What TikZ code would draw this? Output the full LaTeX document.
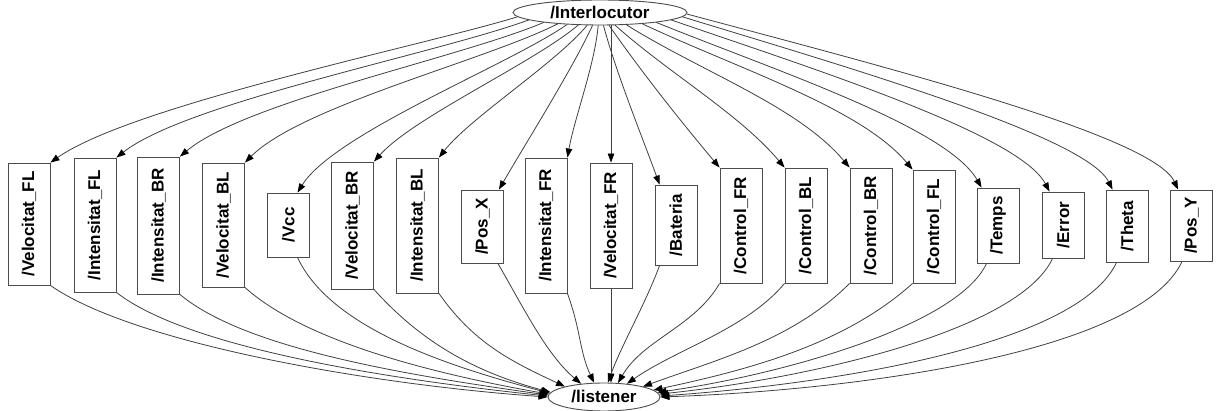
\documentclass[tikz,border=0pt]{standalone}
\usepackage{fontspec}
\setmainfont{Liberation Sans}
\usetikzlibrary{shapes.geometric,arrows.meta}
\begin{document}
\begin{tikzpicture}[x=1pt,y=1pt,
  box/.style={draw=black!70, line width=0.9pt, inner sep=0pt, minimum width=42, font=\bfseries\fontsize{17}{19}\selectfont},
  oval/.style={draw=black!70, line width=0.9pt, ellipse, inner sep=0pt, font=\bfseries\fontsize{17}{19}\selectfont},
  edge/.style={draw=black!75, line width=0.8pt, -{Triangle[length=9pt,width=6.5pt,fill=black,color=black]}}]
\useasboundingbox[fill=white] (0,0) rectangle (1216,-411);

\node[oval, minimum width=174, minimum height=25] (top) at (600,-12.5) {/Interlocutor};
\node[oval, minimum width=112, minimum height=28] (bot) at (604,-397) {/listener};

\node[box, minimum height=122] (b1)  at (29,-224)     {\rotatebox{90}{/Velocitat\_FL}};
\node[box, minimum height=134] (b2)  at (95,-225)     {\rotatebox{90}{/Intensitat\_FL}};
\node[box, minimum height=137] (b3)  at (158.5,-225.5){\rotatebox{90}{/Intensitat\_BR}};
\node[box, minimum height=124] (b4)  at (223.5,-225)  {\rotatebox{90}{/Velocitat\_BL}};
\node[box, minimum height=64]  (b5)  at (288.5,-225)  {\rotatebox{90}{/Vcc}};
\node[box, minimum height=127] (b6)  at (352.5,-225.5){\rotatebox{90}{/Velocitat\_BR}};
\node[box, minimum height=135] (b7)  at (417.5,-225.5){\rotatebox{90}{/Intensitat\_BL}};
\node[box, minimum height=73]  (b8)  at (482.5,-226.5){\rotatebox{90}{/Pos\_X}};
\node[box, minimum height=135] (b9)  at (546,-225.5)  {\rotatebox{90}{/Intensitat\_FR}};
\node[box, minimum height=125] (b10) at (611,-225.5)  {\rotatebox{90}{/Velocitat\_FR}};
\node[box, minimum height=80]  (b11) at (676,-225)    {\rotatebox{90}{/Bateria}};
\node[box, minimum height=115] (b12) at (741,-225.5)  {\rotatebox{90}{/Control\_FR}};
\node[box, minimum height=115] (b13) at (806,-225.5)  {\rotatebox{90}{/Control\_BL}};
\node[box, minimum height=115] (b14) at (871,-225.5)  {\rotatebox{90}{/Control\_BR}};
\node[box, minimum height=113] (b15) at (934,-226.5)  {\rotatebox{90}{/Control\_FL}};
\node[box, minimum height=75]  (b16) at (998,-225.5)  {\rotatebox{90}{/Temps}};
\node[box, minimum height=66]  (b17) at (1063,-225)   {\rotatebox{90}{/Error}};
\node[box, minimum height=72]  (b18) at (1127,-226)   {\rotatebox{90}{/Theta}};
\node[box, minimum height=71]  (b19) at (1191.5,-225.5){\rotatebox{90}{/Pos\_Y}};

% edges from /Interlocutor
\draw[edge] (top.183) .. controls +(197:100) and +(35:100) .. (b1.north east);
\draw[edge] (top.186) .. controls +(200:100) and +(38:90) .. (b2.north east);
\draw[edge] (top.190) .. controls +(203:90) and +(40:85) .. (b3.north east);
\draw[edge] (top.195) .. controls +(207:80) and +(45:80) .. (b4.north east);
\draw[edge] (top.200) .. controls +(215:70) and +(58:70) .. ([xshift=9]b5.north);
\draw[edge] (top.210) .. controls +(220:60) and +(48:60) .. (b6.north east);
\draw[edge] (top.225) .. controls +(230:50) and +(52:50) .. (b7.north east);
\draw[edge] (top.240) .. controls +(245:50) and +(60:50) .. ([xshift=-5]b8.north east);
\draw[edge] (top.262) .. controls +(265:40) and +(80:40) .. (b9.north east);
\draw[edge] (top.south -| b10.north) -- (b10.north);
\draw[edge] (top.285) .. controls +(285:50) and +(110:50) .. ([xshift=5]b11.north west);
\draw[edge] (top.305) .. controls +(305:60) and +(130:60) .. (b12.north west);
\draw[edge] (top.320) .. controls +(318:70) and +(130:70) .. (b13.north west);
\draw[edge] (top.335) .. controls +(328:90) and +(130:80) .. (b14.north west);
\draw[edge] (top.345) .. controls +(335:110) and +(130:80) .. (b15.north west);
\draw[edge] (top.350) .. controls +(338:130) and +(120:70) .. ([xshift=5]b16.north west);
\draw[edge] (top.354) .. controls +(341:150) and +(118:65) .. ([xshift=8]b17.north west);
\draw[edge] (top.357) .. controls +(343:170) and +(117:60) .. ([xshift=7]b18.north west);
\draw[edge] (top.359) .. controls +(345:200) and +(115:60) .. ([xshift=8]b19.north west);

% edges to /listener
\draw[edge] (b1.south east) .. controls +(-35:100) and +(176:180) .. (bot.180);
\draw[edge] (b2.south east) .. controls +(-38:90) and +(174:160) .. (bot.179);
\draw[edge] (b3.south east) .. controls +(-40:85) and +(172:140) .. (bot.178);
\draw[edge] (b4.south east) .. controls +(-42:80) and +(170:120) .. (bot.177);
\draw[edge] ([xshift=9]b5.south) .. controls +(-65:80) and +(165:100) .. (bot.176);
\draw[edge] (b6.south east) .. controls +(-48:70) and +(165:80) .. (bot.175);
\draw[edge] (b7.south east) .. controls +(-55:60) and +(155:60) .. (bot.165);
\draw[edge] ([xshift=-6]b8.south east) .. controls +(-60:50) and +(140:45) .. (bot.150);
\draw[edge] (b9.south east) .. controls +(-70:40) and +(115:35) .. (bot.125);
\draw[edge] (b10.south) -- (b10.south |- bot.north);
\draw[edge] ([xshift=5]b11.south west) .. controls +(-110:40) and +(70:40) .. (bot.75);
\draw[edge] (b12.south west) .. controls +(-120:50) and +(60:50) .. (bot.45);
\draw[edge] (b13.south west) .. controls +(-130:60) and +(35:60) .. (bot.30);
\draw[edge] (b14.south west) .. controls +(-135:80) and +(20:80) .. (bot.15);
\draw[edge] (b15.south west) .. controls +(-138:90) and +(12:100) .. (bot.8);
\draw[edge] ([xshift=10]b16.south west) .. controls +(-115:70) and +(8:120) .. (bot.5);
\draw[edge] ([xshift=11]b17.south west) .. controls +(-115:80) and +(6:150) .. (bot.3);
\draw[edge] ([xshift=11]b18.south west) .. controls +(-115:90) and +(4:180) .. (bot.1);
\draw[edge] ([xshift=12]b19.south west) .. controls +(-115:100) and +(2:200) .. (bot.0);
\end{tikzpicture}
\end{document}
